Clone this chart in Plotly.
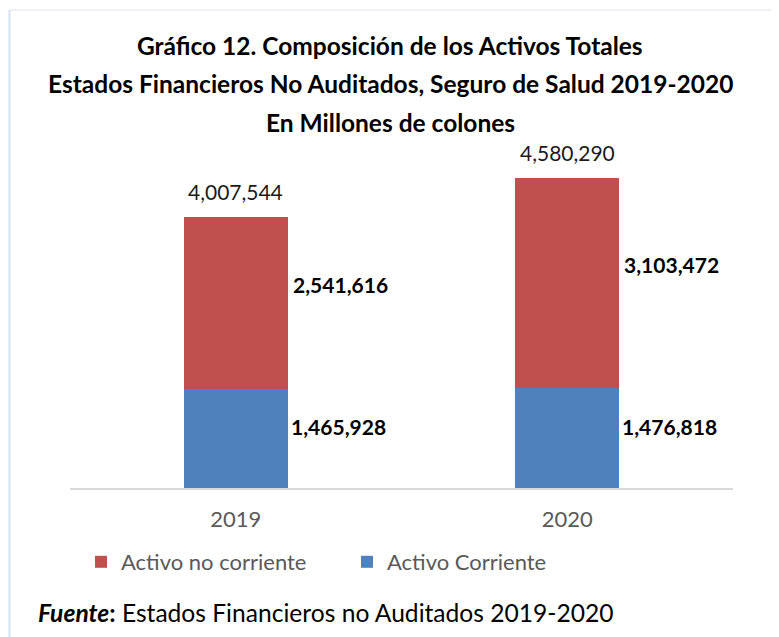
import plotly.graph_objects as go

years = ["2019", "2020"]
activo_corriente = [1465928, 1476818]
activo_no_corriente = [2541616, 3103472]
totales = [a + b for a, b in zip(activo_corriente, activo_no_corriente)]

title_lines = [
    "Gráfico 12. Composición de los Activos Totales",
    "Estados Financieros No Auditados, Seguro de Salud 2019-2020",
    "En Millones de colones",
]

RED = "#C0504D"
BLUE = "#4F81BD"
FONT = "Lato, Calibri, sans-serif"

# the page body adds an 8px offset, so work in screen pixels minus 8
OFF = 8
W, H = 779 - OFF, 637 - OFF
# plot area on screen: x 70..733, y 150..488
L, R, T, B = 70 - OFF, 779 - 733, 150 - OFF, 637 - 488
PW, PH = W - L - R, H - T - B


def px_x(p):
    return (p - OFF - L) / PW


def px_y(p):
    return (H - B - (p - OFF)) / PH


fig = go.Figure()
fig.add_trace(go.Bar(
    x=years, y=activo_corriente, name="Activo Corriente",
    marker={"color": BLUE, "line": {"width": 0}}, hoverinfo="y",
))
fig.add_trace(go.Bar(
    x=years, y=activo_no_corriente, name="Activo no corriente",
    marker={"color": RED, "line": {"width": 0}}, hoverinfo="y",
))

annotations = []
# category axis: annotations use the category index
for i, yr in enumerate(years):
    base = activo_corriente[i]
    annotations.append(dict(
        x=i, y=base / 2, xref="x", yref="y", text=f"<b>{activo_corriente[i]:,}</b>",
        showarrow=False, xanchor="left", yanchor="middle", xshift=53, yshift=12,
        font={"family": FONT, "size": 21, "color": "#000000"},
    ))
    annotations.append(dict(
        x=i, y=base + activo_no_corriente[i] / 2, xref="x", yref="y",
        text=f"<b>{activo_no_corriente[i]:,}</b>",
        showarrow=False, xanchor="left", yanchor="middle", xshift=55, yshift=19,
        font={"family": FONT, "size": 21, "color": "#000000"},
    ))
    annotations.append(dict(
        x=i, y=totales[i], xref="x", yref="y", text=f"{totales[i]:,}",
        showarrow=False, xanchor="center", yanchor="middle", yshift=26,
        font={"family": FONT, "size": 21, "color": "#1a1a1a"},
    ))

for line, py in zip(title_lines, [45, 84, 122]):
    annotations.append(dict(
        x=px_x(390), y=px_y(py), xref="paper", yref="paper", text=f"<b>{line}</b>",
        showarrow=False, xanchor="center", yanchor="middle",
        font={"family": FONT, "size": 24.5, "color": "#000000"},
    ))

annotations.append(dict(
    x=px_x(36), y=px_y(612), xref="paper", yref="paper",
    text="<b><i>Fuente</i>:</b> Estados Financieros no Auditados 2019-2020",
    showarrow=False, xanchor="left", yanchor="middle",
    font={"family": FONT, "size": 24.6, "color": "#000000"},
))

# light frame around the chart (left and top edges)
shapes = [
    dict(type="line", xref="paper", yref="paper", x0=px_x(9), x1=px_x(779),
         y0=px_y(10), y1=px_y(10), line={"color": "#edf2f9", "width": 2}),
    dict(type="line", xref="paper", yref="paper", x0=px_x(9.5), x1=px_x(9.5),
         y0=px_y(10), y1=px_y(637), line={"color": "#d6e1f1", "width": 2}),
]

fig.update_layout(
    barmode="stack",
    bargap=0.686,
    width=W, height=H,
    margin={"l": L, "r": R, "t": T, "b": B},
    paper_bgcolor="#ffffff",
    plot_bgcolor="#ffffff",
    font={"family": FONT, "color": "#595959"},
    showlegend=True,
    legend={
        "orientation": "h", "x": px_x(81), "y": px_y(562), "xanchor": "left",
        "yanchor": "middle", "traceorder": "reversed",
        "font": {"family": FONT, "size": 22, "color": "#595959"},
        "itemwidth": 30, "entrywidth": 221, "itemsizing": "constant",
    },
    annotations=annotations,
    shapes=shapes,
)
fig.update_xaxes(
    type="category", range=[-0.5, 1.5],
    showline=True, linecolor="#d9d9d9", linewidth=2, showgrid=False,
    ticks="", tickfont={"family": FONT, "size": 22, "color": "#595959"},
    ticklabelstandoff=11,
)
fig.update_yaxes(range=[0, 5000000], visible=False, showgrid=False)

fig.write_html("out.html")
